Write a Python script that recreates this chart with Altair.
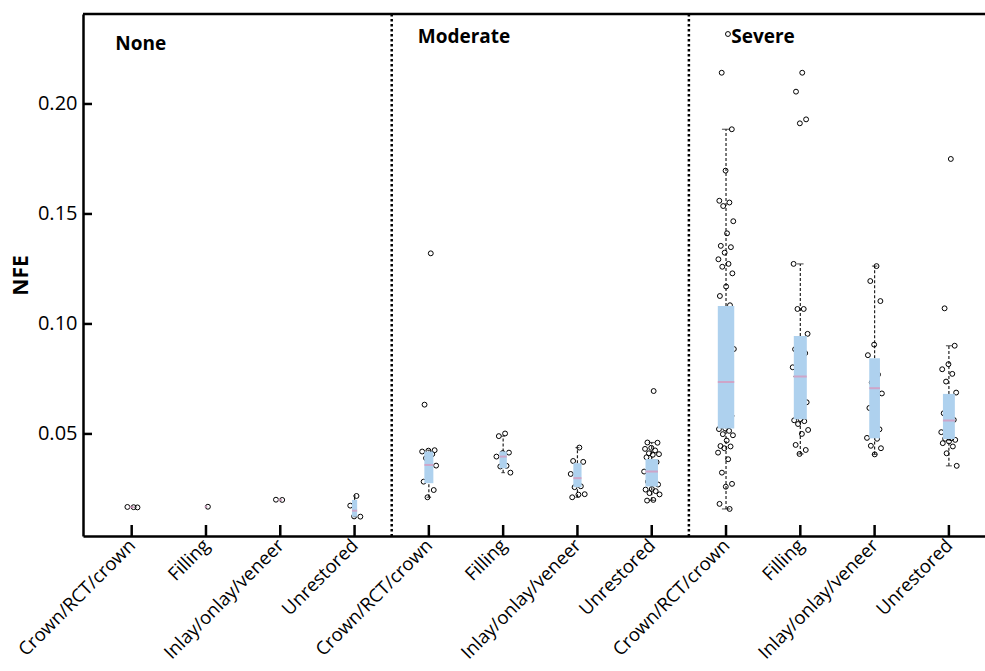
import json
import altair as alt
import pandas as pd

# ---------------- data ----------------
categories = ["Crown/RCT/crown", "Filling", "Inlay/onlay/veneer", "Unrestored"] * 3
positions = list(range(1, 13))
group_names = ["None", "Moderate", "Severe"]
group_label_x = [0.78, 4.85, 9.07]
group_label_y = [0.2273, 0.2305, 0.2305]
separators = [4.5, 8.5]
y_ticks = [0.05, 0.10, 0.15, 0.20]

none_crown = [0.0167, 0.0168, 0.0166]
none_filling = [0.0169]
none_inlay = [0.0200, 0.0201]
none_unrestored = [0.0218, 0.0174, 0.0124, 0.0125]
mod_crown = [0.1321, 0.0633, 0.0426, 0.0424, 0.0420, 0.0408, 0.0390, 0.0356,
             0.0314, 0.0283, 0.0245, 0.0212]
mod_filling = [0.0502, 0.0490, 0.0415, 0.0413, 0.0397, 0.0355, 0.0352, 0.0324]
mod_inlay = [0.0438, 0.0377, 0.0373, 0.0351, 0.0318, 0.0262, 0.0258, 0.0226,
             0.0224, 0.0212]
mod_unrestored = [0.0695, 0.0461, 0.0460, 0.0437, 0.0432, 0.0425, 0.0412, 0.0408,
                  0.0405, 0.0394, 0.0372, 0.0355, 0.0329, 0.0305, 0.0283, 0.0270,
                  0.0250, 0.0247, 0.0240, 0.0231, 0.0225, 0.0200, 0.0197]
sev_crown = [0.2318, 0.2142, 0.1885, 0.1697, 0.1560, 0.1552, 0.1536, 0.1467,
             0.1412, 0.1355, 0.1349, 0.1324, 0.1294, 0.1273, 0.1260, 0.1230,
             0.1170, 0.1127, 0.1085, 0.1000, 0.0886, 0.0817, 0.0736, 0.0582,
             0.0525, 0.0522, 0.0514, 0.0499, 0.0494, 0.0470, 0.0445, 0.0443,
             0.0435, 0.0415, 0.0385, 0.0324, 0.0273, 0.0260, 0.0182, 0.0159]
sev_filling = [0.2142, 0.2056, 0.1930, 0.1912, 0.1273, 0.1068, 0.1068, 0.0955,
               0.0917, 0.0885, 0.0867, 0.0821, 0.0803, 0.0791, 0.0761, 0.0644,
               0.0568, 0.0562, 0.0558, 0.0545, 0.0518, 0.0500, 0.0450, 0.0427,
               0.0409]
sev_inlay = [0.1263, 0.1195, 0.1104, 0.0906, 0.0858, 0.0770, 0.0734, 0.0684,
             0.0622, 0.0618, 0.0521, 0.0504, 0.0482, 0.0478, 0.0446, 0.0435,
             0.0407]
sev_unrestored = [0.1750, 0.1071, 0.0901, 0.0817, 0.0794, 0.0773, 0.0738, 0.0688,
                  0.0606, 0.0594, 0.0564, 0.0541, 0.0508, 0.0480, 0.0478, 0.0473,
                  0.0466, 0.0458, 0.0443, 0.0412, 0.0355]

q1 = [0.0165, 0.0167, 0.0198, 0.0124, 0.0276, 0.0344, 0.0258, 0.0261,
      0.0525, 0.0567, 0.0480, 0.0477]
medians = [0.0167, 0.0169, 0.0200, 0.0151, 0.0359, 0.0397, 0.0299, 0.0329,
           0.0736, 0.0761, 0.0708, 0.0561]
q3 = [0.0169, 0.0171, 0.0202, 0.0200, 0.0420, 0.0420, 0.0367, 0.0386,
      0.1082, 0.0945, 0.0844, 0.0682]
whisker_lo = [0.0166, 0.0169, 0.0200, 0.0124, 0.0212, 0.0324, 0.0212, 0.0198,
              0.0159, 0.0409, 0.0407, 0.0355]
whisker_hi = [0.0168, 0.0169, 0.0201, 0.0218, 0.0426, 0.0490, 0.0438, 0.0461,
              0.1885, 0.1273, 0.1263, 0.0901]

series = [none_crown, none_filling, none_inlay, none_unrestored,
          mod_crown, mod_filling, mod_inlay, mod_unrestored,
          sev_crown, sev_filling, sev_inlay, sev_unrestored]

# ---------------- tables ----------------
pts = pd.DataFrame([{"pos": p, "nfe": v} for p, vals in zip(positions, series) for v in vals])
box = pd.DataFrame({"pos": positions, "q1": q1, "median": medians, "q3": q3,
                    "lo": whisker_lo, "hi": whisker_hi,
                    "n": [len(s) for s in series]})
groups_df = pd.DataFrame({"label": group_names, "gx": group_label_x, "gy": group_label_y})
sep_df = pd.DataFrame({"s": separators})
ytick_df = pd.DataFrame({"v": y_ticks})
xtick_df = pd.DataFrame({"p": positions})

W, H = 902, 522
FONT = "Open Sans"

xscale = alt.Scale(domain=[0.3446, 12.486], nice=False, zero=False)
yscale = alt.Scale(domain=[0.0036, 0.2409], nice=False, zero=False)

label_js = json.dumps(categories)
xaxis = alt.Axis(values=positions, labelExpr=f"{label_js}[datum.value - 1]", title=None,
                 grid=False, ticks=False, tickSize=0, domain=True, domainColor="black",
                 domainWidth=2.5, labelAngle=-45, labelAlign="right", labelBaseline="middle",
                 labelFont=FONT, labelFontSize=18.5, labelColor="black", labelPadding=6,
                 labelOverlap=False, labelBound=False, labelFlush=False)
yaxis = alt.Axis(values=y_ticks, format=".2f", title="NFE", grid=False, ticks=False,
                 tickSize=0, domain=True, domainColor="black", domainWidth=2.5,
                 labelFont=FONT, labelFontSize=20, labelColor="black", labelPadding=6,
                 titleFont=FONT, titleFontSize=21, titleFontWeight="bold",
                 titleColor="black", titlePadding=6)


def X(field):
    return alt.X(f"{field}:Q", scale=xscale, axis=xaxis)


def Y(field):
    return alt.Y(f"{field}:Q", scale=yscale, axis=yaxis)


boxbase = alt.Chart(box).transform_calculate(
    w="2.6 * sqrt(datum.n)", cap="1.3 * sqrt(datum.n)")

whisk_up = boxbase.mark_rule(color="#222222", strokeWidth=1.2, strokeDash=[3, 2]).encode(
    x=X("pos"), y=Y("q3"), y2="hi")
whisk_dn = boxbase.mark_rule(color="#222222", strokeWidth=1.2, strokeDash=[3, 2]).encode(
    x=X("pos"), y=Y("lo"), y2="q1")
cap_hi = boxbase.mark_tick(orient="horizontal", color="#222222", thickness=1.2).encode(
    x=X("pos"), y=Y("hi"), size=alt.Size("cap:Q", scale=None))
cap_lo = boxbase.mark_tick(orient="horizontal", color="#222222", thickness=1.2).encode(
    x=X("pos"), y=Y("lo"), size=alt.Size("cap:Q", scale=None))

points = alt.Chart(pts).transform_window(
    rn="row_number()", groupby=["pos"]
).transform_calculate(
    xj="datum.pos + ((datum.rn * 0.618034) % 1 - 0.5) * 0.22"
).mark_point(shape="circle", filled=False, size=24, strokeWidth=1, color="black",
             opacity=1).encode(x=X("xj"), y=Y("nfe"))

boxes = boxbase.mark_rule(color="#aed1ee", strokeCap="butt").encode(
    x=X("pos"), y=Y("q1"), y2="q3", strokeWidth=alt.StrokeWidth("w:Q", scale=None))
meds = boxbase.mark_tick(orient="horizontal", color="#dc93b8", thickness=2).encode(
    x=X("pos"), y=Y("median"), size=alt.Size("w:Q", scale=None))

seps = alt.Chart(sep_df).mark_rule(color="black", strokeWidth=2.5, strokeDash=[2.5, 2.5]).encode(
    x=X("s"), y=alt.value(0), y2=alt.value(H))
yt = alt.Chart(ytick_df).mark_rule(color="black", strokeWidth=2.5).encode(
    y=Y("v"), x=alt.value(0), x2=alt.value(9))
xt = alt.Chart(xtick_df).mark_rule(color="black", strokeWidth=2.5).encode(
    x=X("p"), y=alt.value(H), y2=alt.value(H - 11))
top = alt.Chart(pd.DataFrame({"a": [0]})).mark_rule(color="black", strokeWidth=2.5).encode(
    x=alt.value(0), x2=alt.value(W), y=alt.value(0))
glabels = alt.Chart(groups_df).mark_text(align="left", baseline="middle", font=FONT,
                                         fontSize=19, fontWeight="bold", color="black").encode(
    x=X("gx"), y=Y("gy"), text="label:N")

chart = alt.layer(
    whisk_up, whisk_dn, cap_hi, cap_lo, points, boxes, meds, seps, yt, xt, top, glabels
).properties(
    width=W, height=H,
    autosize=alt.AutoSizeParams(type="none"),
    padding={"left": 83, "top": 14, "right": 0, "bottom": 135},
    background="white",
).configure_view(stroke=None)

chart.save("out.html", embed_options={"renderer": "svg", "actions": False})
